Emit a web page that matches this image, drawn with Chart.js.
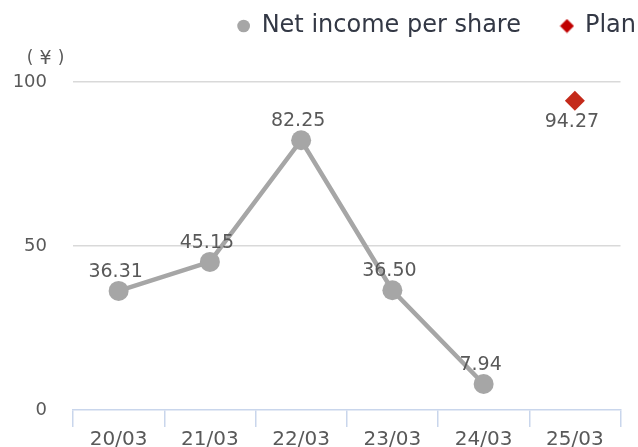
<!DOCTYPE html>
<html>
<head>
<meta charset="utf-8">
<script src="https://cdn.jsdelivr.net/npm/chart.js@4"></script>
<style>
  html, body { margin: 0; padding: 0; background: #fff; }
  #wrap { width: 638px; height: 447px; }
</style>
</head>
<body>
<div id="wrap"><canvas id="myChart"></canvas></div>
<script>
// data
var years = ['20/03', '21/03', '22/03', '23/03', '24/03', '25/03'];
var netIncome = [36.31, 45.15, 82.25, 36.50, 7.94, null];
var plan = [null, null, null, null, null, 94.27];
var yTicks = [0, 50, 100];

var FONT = '"DejaVu Sans", Verdana, sans-serif';

// legend diamond is a bit bigger than the circle
var diamond = document.createElement('canvas');
diamond.width = 15;
diamond.height = 15;
(function () {
  var d = diamond.getContext('2d');
  d.fillStyle = '#C00000';
  d.beginPath();
  d.moveTo(7.5, 0.5);
  d.lineTo(14.5, 7.5);
  d.lineTo(7.5, 14.5);
  d.lineTo(0.5, 7.5);
  d.closePath();
  d.fill();
})();

// value labels + the (¥) unit
var labelsPlugin = {
  id: 'labels',
  afterDatasetsDraw: function (chart) {
    var ctx = chart.ctx;
    ctx.save();
    ctx.font = '19px ' + FONT;
    ctx.fillStyle = '#595959';
    ctx.textAlign = 'center';
    ctx.textBaseline = 'middle';
    chart.data.datasets.forEach(function (ds, i) {
      var meta = chart.getDatasetMeta(i);
      meta.data.forEach(function (pt, j) {
        var v = ds.data[j];
        if (v == null) return;
        var dy = i === 0 ? -19 : 21;
        ctx.fillText(v.toFixed(2), pt.x - 3, pt.y + dy);
      });
    });
    // unit, spaced out like the full-width original
    ctx.font = '17px ' + FONT;
    ctx.fillText('(', 30, 59);
    ctx.fillText(')', 61, 59);
    ctx.font = '19px ' + FONT;
    ctx.fillText('¥', 45.5, 59);
    ctx.restore();
  }
};

var ctx = document.getElementById('myChart').getContext('2d');
var chart = new Chart(ctx, {
  type: 'line',
  data: {
    labels: years,
    datasets: [{
      label: 'Net income per share',
      data: netIncome,
      borderColor: '#A6A6A6',
      backgroundColor: '#A6A6A6',
      borderWidth: 4.5,
      pointRadius: 10,
      pointHoverRadius: 10,
      pointBorderWidth: 0,
      pointStyle: 'circle',
      spanGaps: false
    }, {
      label: 'Plan',
      data: plan,
      borderColor: '#C42A1A',
      backgroundColor: '#C42A1A',
      showLine: false,
      pointStyle: 'rectRot',
      pointRadius: 10,
      pointBorderWidth: 0
    }]
  },
  options: {
    responsive: true,
    maintainAspectRatio: false,
    animation: false,
    layout: { padding: { left: 0, right: -38, top: -26, bottom: 0 } },
    plugins: {
      tooltip: { enabled: false },
      legend: {
        position: 'top',
        align: 'end',
        labels: {
          usePointStyle: true,
          boxWidth: 12,
          boxHeight: 9,
          padding: 40,
          color: '#333845',
          font: { family: FONT, size: 24 },
          generateLabels: function (chart) {
            return chart.data.datasets.map(function (ds, i) {
              return {
                text: ds.label,
                fillStyle: '#A6A6A6',
                strokeStyle: 'rgba(0,0,0,0)',
                lineWidth: 0,
                pointStyle: i === 0 ? 'circle' : diamond,
                fontColor: '#333845',
                datasetIndex: i
              };
            });
          }
        }
      }
    },
    scales: {
      x: {
        offset: true,
        grid: {
          offset: true,
          drawOnChartArea: false,
          tickLength: 17,
          color: '#C9D6EC',
          lineWidth: 1.5
        },
        border: { color: '#C9D6EC', width: 1.5 },
        ticks: { color: '#595959', padding: 1, font: { family: FONT, size: 20 } },
        afterFit: function (s) { s.height = 37; }
      },
      xTop: {
        position: 'top',
        display: true,
        grid: { display: false },
        border: { display: false },
        ticks: { display: false },
        afterFit: function (s) { s.height = 34; }
      },
      y: {
        min: 0,
        max: 100,
        afterBuildTicks: function (s) { s.ticks = yTicks.map(function (v) { return { value: v }; }); },
        grid: {
          drawTicks: false,
          color: function (c) { return c.tick.value === 0 ? 'rgba(0,0,0,0)' : '#D9D9D9'; },
          lineWidth: 1.5
        },
        border: { display: false },
        ticks: { color: '#595959', padding: 26, font: { family: FONT, size: 18 } },
        afterFit: function (s) { s.width = 73; }
      },
      y2: {
        position: 'right',
        display: true,
        grid: { display: false },
        border: { display: false },
        ticks: { display: false },
        afterFit: function (s) { s.width = 55.5; }
      }
    }
  },
  plugins: [labelsPlugin]
});
</script>
</body>
</html>
